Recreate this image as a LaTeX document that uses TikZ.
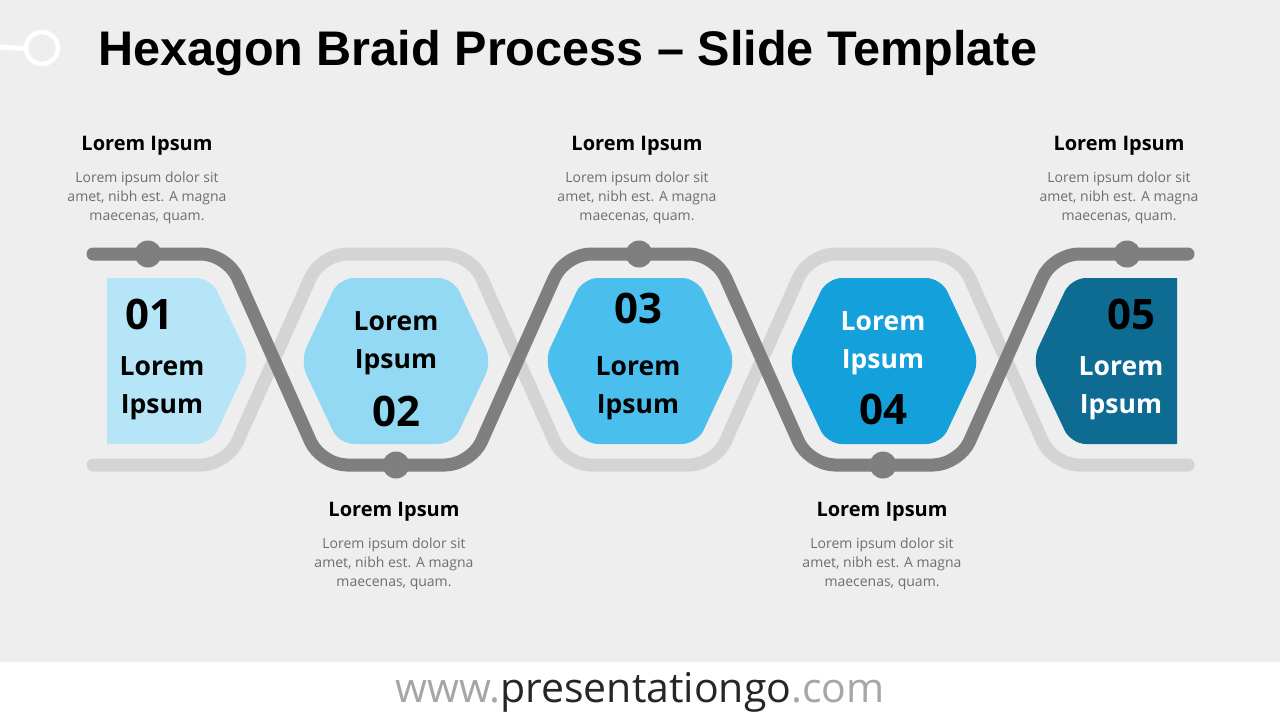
\documentclass[tikz,border=0pt]{standalone}
\usepackage{fontspec}
\setmainfont{Open Sans}
\newfontfamily\titlefont{Liberation Sans}
\usetikzlibrary{calc}
\definecolor{bgc}{HTML}{EFEEEF}
\definecolor{darkline}{HTML}{7F7F7F}
\definecolor{lightline}{HTML}{D4D4D4}
\definecolor{hexA}{HTML}{B6E5F7}
\definecolor{hexB}{HTML}{93D9F4}
\definecolor{hexC}{HTML}{4ABFEE}
\definecolor{hexD}{HTML}{14A0DA}
\definecolor{hexE}{HTML}{0E6B91}
\definecolor{desc}{HTML}{6E6E6E}
\definecolor{urlgray}{HTML}{A6A6A6}
\definecolor{urldark}{HTML}{262626}
\tikzset{
  braid/.style={line width=13pt, line cap=round, rounded corners=26pt},
  dotmark/.style={circle, fill=darkline, inner sep=0pt, minimum size=27pt},
  heading/.style={font=\fontsize{20}{24}\selectfont\bfseries, text=black, inner sep=0pt},
  body/.style={font=\fontsize{14}{19}\selectfont, text=desc, align=center, inner sep=0pt},
  hexword/.style={font=\fontsize{26.5}{38}\selectfont\bfseries, inner sep=0pt, align=center},
  hexnum/.style={font=\fontsize{42}{42}\selectfont\bfseries, inner sep=0pt, text=black},
}
\begin{document}
\begin{tikzpicture}[x=1pt,y=-1pt]
\useasboundingbox (0,0) rectangle (1280,720);
\fill[bgc] (0,0) rectangle (1280,662);
\fill[white] (0,662) rectangle (1280,720);

% logo
\draw[white, line width=5pt, line cap=round] (0,47) -- (24,48.5);
\draw[white, line width=4.5pt] (42,48) circle (16);

% title
\node[anchor=base west, inner sep=0pt, font=\titlefont\fontsize{48.6}{50}\selectfont\bfseries] (title) at (98,65) {Hexagon Braid Process – Slide Template};

% hexagons
\fill[hexA] (107,278) -- (150,278) [rounded corners=15pt] -- (211,278) -- (250,361) -- (211,444) -- (150,444) [sharp corners] -- (107,444) -- cycle;
\foreach \c/\col in {396/hexB, 640/hexC, 884/hexD}{
  \fill[\col, rounded corners=15pt] (\c,278) -- ({\c+57},278) -- ({\c+96},361) -- ({\c+57},444) -- ({\c-57},444) -- ({\c-96},361) -- ({\c-57},278) -- cycle;
}
\fill[hexE] (1177,278) -- (1130,278) [rounded corners=15pt] -- (1071,278) -- (1032,361) -- (1071,444) -- (1130,444) [sharp corners] -- (1177,444) -- cycle;

% braid
\draw[braid, lightline] (93,465) -- (227,465) -- (321,254) -- (471,254) -- (565,465) -- (715,465) -- (809,254) -- (959,254) -- (1053,465) -- (1188,465);
\draw[braid, darkline] (93,254) -- (227,254) -- (321,465) -- (471,465) -- (565,254) -- (715,254) -- (809,465) -- (959,465) -- (1053,254) -- (1188,254);

% dots
\node[dotmark] (d1) at (148,254) {};
\node[dotmark] (d2) at (396,465) {};
\node[dotmark] (d3) at (639,254) {};
\node[dotmark] (d4) at (883,465) {};
\node[dotmark] (d5) at (1127,254) {};

% hexagon texts
\node[hexnum] (n1) at (149,314) {01};
\node[hexword, text=black] (w1) at (162,388) {Lorem\\Ipsum};
\node[hexword, text=black] (w2) at (396,343) {Lorem\\Ipsum};
\node[hexnum] (n2) at (396,411) {02};
\node[hexnum] (n3) at (638,308) {03};
\node[hexword, text=black] (w3) at (638,388) {Lorem\\Ipsum};
\node[hexword, text=white] (w4) at (883,343) {Lorem\\Ipsum};
\node[hexnum] (n4) at (883,409) {04};
\node[hexnum] (n5) at (1131,314) {05};
\node[hexword, text=white] (w5) at (1121,388) {Lorem\\Ipsum};

% captions
\foreach \i/\x/\hy/\by in {1/147/146/198, 2/394/512/564, 3/637/146/198, 4/882/512/564, 5/1119/146/198}{
  \node[heading] (h\i) at (\x,\hy) {Lorem Ipsum};
  \node[body] (b\i) at (\x,\by) {Lorem ipsum dolor sit\\amet, nibh est. A magna\\maecenas, quam.};
}

% footer
\node[font=\fontsize{41}{43}\selectfont, inner sep=0pt] (url) at (640,692) {\textcolor{urlgray}{www.}\textcolor{urldark}{presentationgo}\textcolor{urlgray}{.com}};
\end{tikzpicture}
\end{document}
